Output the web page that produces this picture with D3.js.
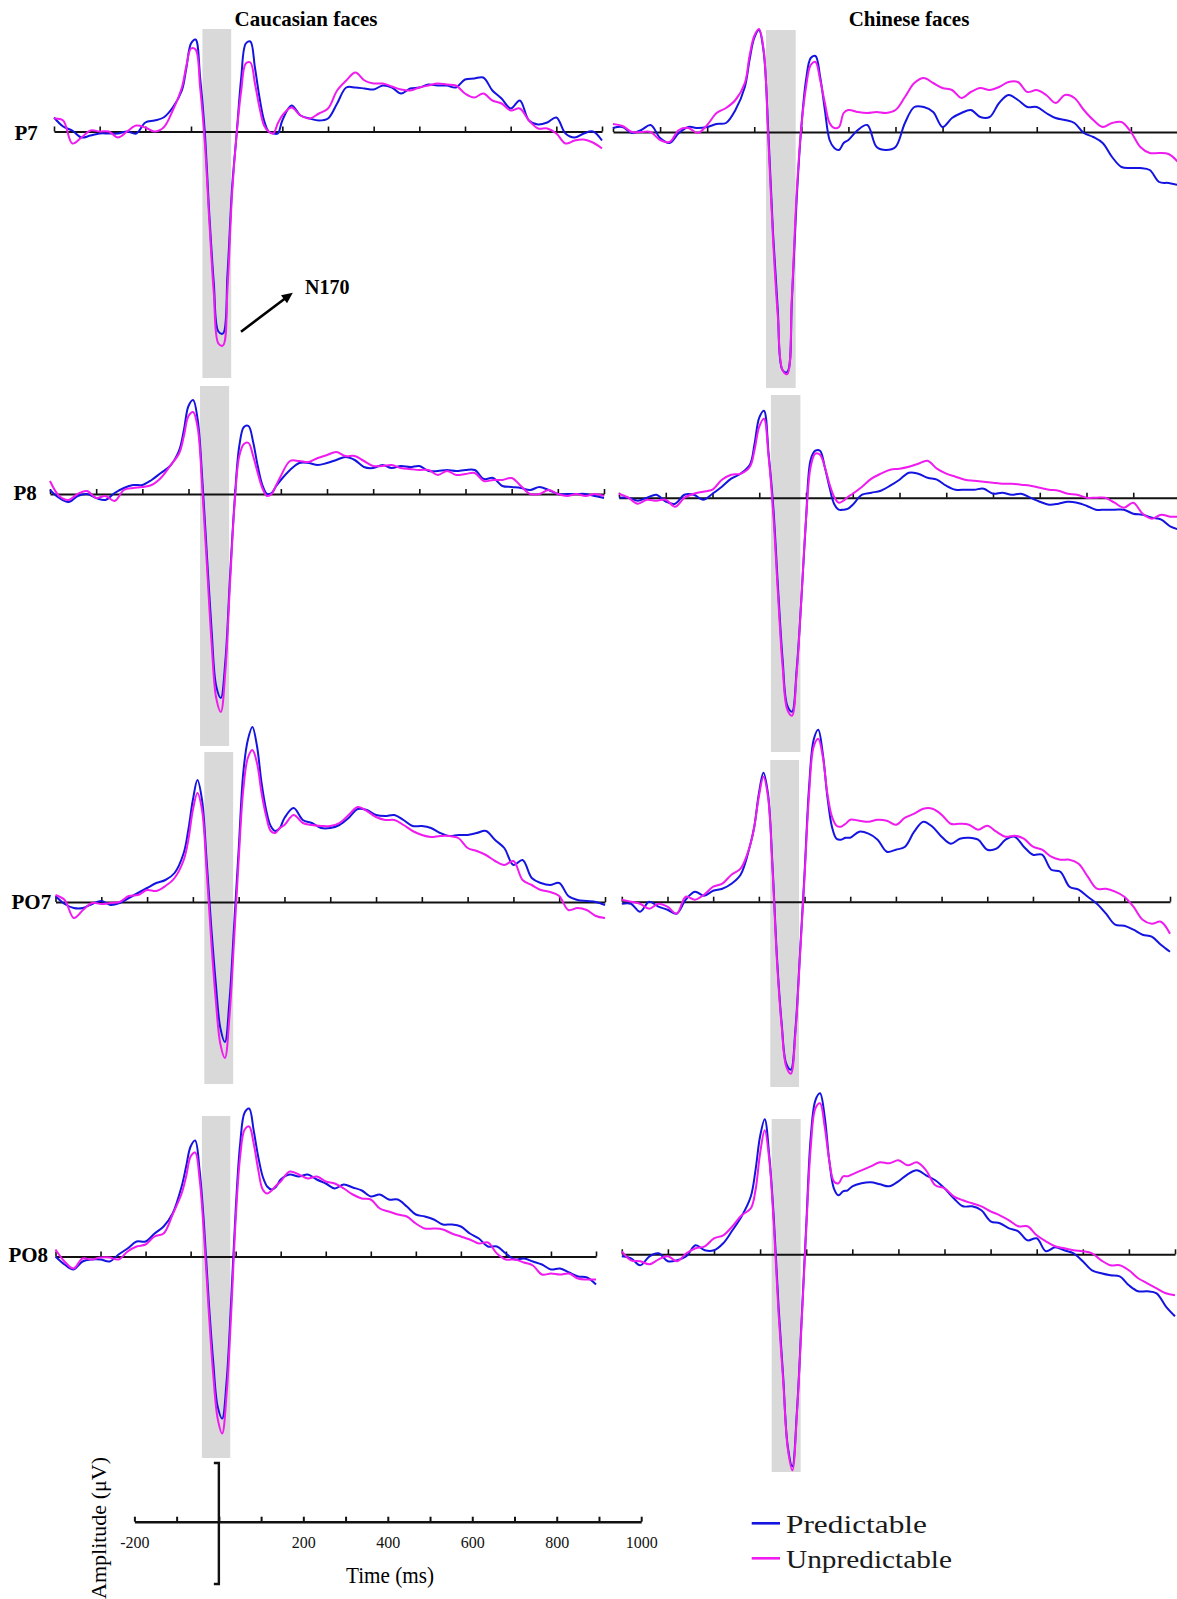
<!DOCTYPE html>
<html>
<head>
<meta charset="utf-8">
<script src="https://cdn.jsdelivr.net/npm/d3@7"></script>
<style>
  body { margin: 0; background: #fff; }
  svg { display: block; }
</style>
</head>
<body>
<div id="erp"></div>
<script>
// time points (ms) shared by every waveform
var timeMs = [-200,-180,-160,-140,-120,-100,-80,-60,-40,-20,0,20,40,60,80,
  90,100,110,120,130,140,150,160,170,180,190,200,210,220,230,240,250,260,270,280,290,300,
  320,340,360,380,400,420,440,460,480,500,520,540,560,580,600,620,640,660,680,700,
  720,740,760,780,800,820,840,860,880,900,920,940,960,980,1000];

// amplitudes in microvolts
var p7CauPred = [0.7,0.25,0.05,-0.3,-0.2,-0.1,-0.1,-0.1,0,-0.1,0.45,0.55,0.7,1.2,2.05,
  3.2,4.4,4.6,2.7,0.05,-4.1,-7.6,-10.0,-10.1,-7.1,-2.8,-0.1,2.7,4.4,4.5,3.2,1.7,0.55,0,-0.1,-0.1,0.55,
  1.3,0.8,0.65,0.55,0.65,1.4,2.2,2.2,2.15,2.1,2.3,2.2,1.9,2.15,2.2,2.35,2.3,2.3,2.2,2.6,
  2.65,2.7,2.05,1.65,1.15,1.55,0.55,0.35,0.45,0.7,-0.1,-0.3,-0.1,0,-0.45];
var p7CauUnpred = [0.65,0.55,-0.6,-0.3,0.05,0,0,-0.3,0,0.3,0.2,0,0.2,1.05,2.2,
  3.3,4.15,4.1,2.2,-0.45,-4.45,-8.1,-10.6,-10.7,-7.8,-3.1,-0.1,2.05,3.4,3.45,2.4,1.2,0.3,0,-0.1,0.4,0.8,
  1.2,0.8,0.65,0.9,1.15,2.05,2.55,2.95,2.55,2.4,2.4,2.25,2.1,2.05,2.2,2.3,2.4,2.35,2.3,1.9,
  1.7,1.9,1.55,1.4,1.05,1.15,0.55,0.15,0.15,-0.1,-0.6,-0.45,-0.4,-0.55,-0.85];
var p7ChiPred = [0.2,0.25,-0.05,0.1,0.35,-0.3,-0.55,-0.05,0.25,0.2,0.25,0.4,0.45,1.1,2.25,
  3.6,4.7,5.1,4.0,-0.05,-5.1,-8.9,-11.9,-12.0,-8.4,-3.4,0.25,2.6,3.7,3.8,2.75,1.1,-0.4,-0.8,-0.9,-0.55,-0.4,
  0.1,0.35,-0.75,-0.9,-0.75,0.45,1.25,1.25,1.0,0.25,0.7,0.95,1.1,0.75,0.75,1.45,1.85,1.6,1.25,1.25,
  0.95,0.7,0.6,0.45,-0.05,-0.25,-0.55,-1.25,-1.75,-1.8,-1.8,-1.9,-2.5,-2.55,-2.65];
var p7ChiUnpred = [0.4,0.3,0,0,0,-0.4,-0.5,0.1,0.2,-0.05,0.35,0.95,1.2,1.6,2.45,
  3.8,4.8,5.15,4.1,-0.4,-5.4,-9.2,-11.9,-12.1,-8.2,-3.1,0.25,2.25,3.35,3.5,2.6,1.45,0.45,0.2,0.25,0.95,1.1,
  1.0,0.95,1.0,0.95,1.1,1.75,2.45,2.7,2.45,2.2,2.1,1.7,2.0,2.2,2.1,2.25,2.5,2.5,2.0,2.1,
  1.85,1.45,1.85,1.7,1.1,0.6,0.25,0.45,0.5,0,-0.75,-1.05,-1.05,-1.1,-1.5];
var p8CauPred = [0.2,-0.2,-0.4,-0.1,0,-0.2,-0.3,0.05,0.3,0.45,0.45,0.7,1.05,1.4,2.2,
  3.2,4.4,4.7,3.7,0.7,-3.1,-6.8,-9.6,-10.2,-8.3,-4.1,-0.3,2.4,3.35,3.4,2.6,1.4,0.45,0,0.05,0.4,0.7,
  1.2,1.55,1.55,1.45,1.55,1.7,1.85,1.7,1.35,1.3,1.45,1.3,1.4,1.35,1.4,1.15,1.15,1.2,1.15,1.2,
  1.2,0.75,0.8,0.4,0.35,0.3,0.2,0.35,0.2,0,0,0,0,-0.1,-0.2];
var p8CauUnpred = [0.65,-0.1,-0.3,0,0.15,-0.2,-0.1,-0.35,0.2,0.3,0.35,0.45,0.8,1.4,2.05,
  2.9,3.9,4.1,3.3,0.2,-3.6,-7.45,-10.2,-10.9,-8.8,-4.45,-0.45,1.9,2.5,2.55,1.9,1.05,0.3,-0.1,0,0.45,0.9,
  1.65,1.65,1.6,1.8,1.95,2.1,1.9,1.9,1.65,1.4,1.4,1.45,1.3,1.25,1.2,1.2,0.95,1.15,0.95,1.0,
  1.05,0.65,0.7,0.7,0.8,0.4,0,0,0.2,0,-0.1,0,-0.1,0,-0.1];
var p8ChiPred = [0,0,-0.15,0,0.15,-0.2,-0.3,0.15,0.15,-0.1,0.2,0.55,0.95,1.2,1.65,
  2.7,4.0,4.35,2.2,-0.45,-4.45,-8.1,-10.4,-10.7,-8.6,-5.1,-1.1,1.9,2.35,2.35,1.55,0.55,-0.3,-0.6,-0.6,-0.55,-0.35,
  0.15,0.25,0.35,0.6,0.9,1.25,1.2,1.0,0.9,0.6,0.4,0.4,0.4,0.45,0.2,0.25,0.15,0.2,0,-0.2,
  -0.35,-0.3,-0.2,-0.25,-0.4,-0.6,-0.6,-0.6,-0.6,-0.8,-0.85,-1.0,-1.1,-1.45,-1.6];
var p8ChiUnpred = [0.2,0,-0.3,-0.1,-0.15,-0.1,-0.45,0,0.2,0.3,0.4,0.9,1.15,1.2,1.55,
  2.4,3.55,3.95,2.05,-0.8,-4.8,-8.45,-10.6,-10.9,-8.8,-5.1,-1.1,1.55,2.2,2.15,1.55,0.7,0.05,-0.25,-0.15,0.05,0.2,
  0.55,0.95,1.2,1.4,1.45,1.55,1.7,1.85,1.45,1.2,1.05,0.9,0.85,0.8,0.75,0.7,0.7,0.65,0.6,0.5,
  0.4,0.35,0.2,0.15,0,0,0,-0.25,-0.5,-0.25,-0.8,-1.05,-0.85,-0.95,-0.95];
var po7CauPred = [0.3,-0.1,-0.3,-0.3,-0.1,0.05,-0.15,-0.05,0.2,0.45,0.7,0.95,1.1,1.45,2.45,
  3.6,5.1,6.1,5.1,2.1,-1.2,-4.05,-6.3,-7.0,-4.9,-1.2,2.6,6.45,8.1,8.75,7.8,5.95,4.6,3.8,3.55,3.7,4.2,
  4.7,4.1,3.95,3.7,3.7,3.85,4.2,4.65,4.6,4.35,4.3,4.35,4.1,3.8,3.8,3.7,3.45,3.3,3.35,3.35,
  3.45,3.55,3.1,2.7,1.85,2.1,1.2,0.95,0.85,0.95,0.3,0.1,0.05,0,-0.15];
var po7CauUnpred = [0.35,0.1,-0.8,-0.4,-0.05,-0.1,-0.05,0,0.3,0.35,0.6,0.55,0.8,1.2,2.1,
  3.1,4.6,5.45,4.6,1.6,-1.9,-4.9,-7.1,-7.8,-5.7,-1.9,2.1,5.6,7.2,7.6,6.95,5.45,4.3,3.55,3.45,3.7,3.85,
  4.35,3.95,3.85,3.8,3.8,3.95,4.35,4.75,4.55,4.25,4.1,4.1,3.85,3.55,3.35,3.25,3.3,3.3,3.2,2.7,
  2.55,2.35,2.05,1.85,2.05,1.1,0.85,0.6,0.5,0.3,-0.4,-0.3,-0.4,-0.7,-0.8];
var po7ChiPred = [-0.1,-0.1,-0.5,0,-0.25,-0.4,-0.6,0.1,0.5,0.3,0.55,0.65,0.9,1.35,2.75,
  3.75,5.4,6.45,5.4,1.75,-2.9,-6.1,-8.1,-8.4,-6.4,-2.6,1.4,5.75,8.1,8.6,7.4,5.25,3.75,3.15,3.1,3.2,3.2,
  3.5,3.4,3.1,2.5,2.6,2.75,3.5,4.0,3.75,3.25,2.9,3.15,3.2,3.1,2.6,2.65,3.1,3.25,2.75,2.35,
  2.35,1.6,1.5,0.75,0.6,0.25,-0.1,-0.6,-1.15,-1.2,-1.4,-1.65,-1.75,-2.15,-2.5];
var po7ChiUnpred = [0.1,0,-0.1,-0.35,-0.1,-0.25,-0.6,0.25,0.1,0.35,0.75,0.9,1.35,1.65,2.75,
  3.75,5.25,6.25,5.25,1.6,-3.1,-6.25,-8.25,-8.6,-6.6,-2.75,1.25,5.4,7.75,8.15,7.25,5.4,4.25,3.8,3.75,3.9,4.1,
  4.05,4.0,4.1,4.05,3.85,4.2,4.4,4.65,4.65,4.35,3.9,3.9,3.85,3.6,3.8,3.5,3.25,3.3,3.15,2.75,
  2.6,2.25,2.1,2.1,1.9,1.25,0.65,0.65,0.5,0.25,-0.25,-0.9,-1.1,-1.0,-1.6];
var po8CauPred = [0,-0.4,-0.65,-0.25,-0.15,-0.15,-0.25,0.1,0.4,0.75,0.75,1.15,1.5,2.15,3.5,
  4.5,5.5,5.8,4.3,1.5,-2.15,-5.2,-7.5,-8.1,-6.2,-2.2,2.3,5.65,7.2,7.4,6.3,5.0,4.0,3.5,3.35,3.5,3.85,
  4.1,4.0,4.1,3.85,3.65,3.4,3.6,3.45,3.3,3.0,3.1,2.85,2.85,2.5,2.1,2.0,1.85,1.6,1.6,1.5,
  1.15,0.9,0.5,0.5,0.15,-0.15,-0.1,-0.25,-0.4,-0.65,-0.6,-0.8,-1.0,-1.05,-1.4];
var po8CauUnpred = [0.35,-0.25,-0.6,-0.1,-0.15,-0.05,-0.05,-0.15,0.25,0.5,0.6,1.0,1.15,2.1,3.15,
  4.0,5.0,5.2,3.85,1.0,-2.65,-5.85,-8.1,-8.85,-6.85,-2.85,1.85,5.0,6.35,6.5,5.65,4.35,3.35,3.15,3.3,3.55,3.75,
  4.25,4.1,3.9,4.0,3.75,3.65,3.4,3.1,2.9,2.85,2.4,2.25,2.1,2.0,1.65,1.4,1.4,1.35,1.15,1.0,
  0.85,0.65,0.7,0.15,-0.15,-0.15,-0.3,-0.45,-0.9,-0.85,-0.9,-0.85,-1.1,-1.15,-1.15];
var po8ChiPred = [-0.1,-0.2,-0.55,-0.1,0.05,-0.35,-0.3,-0.1,0.45,0.2,0.2,0.55,1.2,1.9,2.9,
  4.2,5.9,6.75,4.9,1.7,-2.6,-6.1,-9.6,-10.6,-7.8,-3.3,1.4,5.9,7.7,8.05,6.9,4.7,3.3,2.95,3.15,3.2,3.4,
  3.55,3.6,3.5,3.4,3.65,4.0,4.2,3.95,3.7,3.3,2.8,2.4,2.4,2.2,1.65,1.55,1.3,1.15,0.7,0.8,
  0.15,0.35,0.2,0.05,-0.35,-0.8,-0.95,-1.05,-1.1,-1.55,-1.85,-1.85,-1.95,-2.6,-3.1];
var po8ChiUnpred = [0.15,-0.3,-0.35,-0.5,-0.25,-0.1,-0.35,0.05,0.3,0.4,0.8,0.95,1.4,1.95,2.3,
  3.2,5.05,6.2,4.7,1.4,-2.95,-6.3,-9.7,-10.8,-7.95,-3.45,1.2,5.4,7.3,7.55,6.4,4.7,3.65,3.55,3.9,3.9,4.0,
  4.2,4.4,4.6,4.55,4.7,4.45,4.6,4.2,3.45,3.3,2.9,2.7,2.55,2.4,2.15,1.95,1.7,1.4,1.4,0.95,
  0.65,0.4,0.3,0.2,0.15,0.05,-0.3,-0.55,-0.55,-0.8,-1.2,-1.45,-1.7,-1.95,-2.05];

var electrodes = ["P7", "P8", "PO7", "PO8"];
var faceGroups = ["Caucasian faces", "Chinese faces"];
var conditions = ["Predictable", "Unpredictable"];
var n170Window = [125, 188];
var tickMs = [-200,-100,0,100,200,300,400,500,600,700,800,900,1000];
var scaleLabels = [-200, 200, 400, 600, 800, 1000];

var width = 1177, height = 1599;
var uvPx = 20;            // pixels per microvolt
var colors = {Predictable: "#1414e1", Unpredictable: "#ef1bef"};
var serif = "'Liberation Serif', 'Times New Roman', serif";

var svg = d3.select('#erp').append('svg')
    .attr('width', width)
    .attr('height', height);

// every panel is a small picture of its own, placed like the collage
var panels = [
  {row: 0, col: 0, pred: p7CauPred,  unpred: p7CauUnpred,  left: 54,    right: 602,  axisY: 131.5,  bandTop: 29,   bandBottom: 378},
  {row: 0, col: 1, pred: p7ChiPred,  unpred: p7ChiUnpred,  left: 613,   right: 1178, axisY: 132,    bandTop: 30,   bandBottom: 388},
  {row: 1, col: 0, pred: p8CauPred,  unpred: p8CauUnpred,  left: 50,    right: 604,  axisY: 494,    bandTop: 386,  bandBottom: 746},
  {row: 1, col: 1, pred: p8ChiPred,  unpred: p8ChiUnpred,  left: 619,   right: 1180, axisY: 497.7,  bandTop: 395,  bandBottom: 752},
  {row: 2, col: 0, pred: po7CauPred, unpred: po7CauUnpred, left: 55.5,  right: 605,  axisY: 902,    bandTop: 752,  bandBottom: 1084},
  {row: 2, col: 1, pred: po7ChiPred, unpred: po7ChiUnpred, left: 621.8, right: 1170, axisY: 901.7,  bandTop: 760,  bandBottom: 1087},
  {row: 3, col: 0, pred: po8CauPred, unpred: po8CauUnpred, left: 55.5,  right: 596,  axisY: 1256.5, bandTop: 1116, bandBottom: 1458},
  {row: 3, col: 1, pred: po8ChiPred, unpred: po8ChiUnpred, left: 621.8, right: 1175, axisY: 1254.3, bandTop: 1119, bandBottom: 1472}
];

panels.forEach(function(p) {
  if (p.pred.length !== timeMs.length || p.unpred.length !== timeMs.length)
    throw new Error("length mismatch in panel " + p.row + "," + p.col + ": " + p.pred.length + "/" + p.unpred.length);
  p.x = d3.scaleLinear().domain([-200, 1000]).range([p.left, p.right]);
  p.y = d3.scaleLinear().domain([0, 1]).range([p.axisY, p.axisY - uvPx]);
});

// N170 window bands
svg.append('g').selectAll('rect')
    .data(panels)
  .enter().append('rect')
    .attr('x', function(p) { return p.x(n170Window[0]); })
    .attr('width', function(p) { return p.x(n170Window[1]) - p.x(n170Window[0]); })
    .attr('y', function(p) { return p.bandTop; })
    .attr('height', function(p) { return p.bandBottom - p.bandTop; })
    .attr('fill', '#d9d9d9');

// zero lines with upward ticks
panels.forEach(function(p) {
  var g = svg.append('g')
      .attr('transform', 'translate(0,' + p.axisY + ')')
      .call(d3.axisBottom(p.x).tickValues(tickMs).tickSizeInner(-5).tickSizeOuter(0).tickFormat(''));
  g.select('.domain').attr('stroke', '#111').attr('stroke-width', 2);
  g.selectAll('.tick line').attr('stroke', '#111').attr('stroke-width', 1.6);
});

// waveforms
var line = d3.line().curve(d3.curveCatmullRom.alpha(0.5));
panels.forEach(function(p) {
  [['Predictable', p.pred], ['Unpredictable', p.unpred]].forEach(function(s) {
    svg.append('path')
        .datum(timeMs.map(function(t, i) { return [p.x(t), p.y(s[1][i])]; }))
        .attr('d', line)
        .attr('fill', 'none')
        .attr('stroke', colors[s[0]])
        .attr('stroke-width', 2)
        .attr('stroke-linejoin', 'round');
  });
});

// column titles
var titleX = [306, 909];
svg.selectAll('.title')
    .data(faceGroups)
  .enter().append('text')
    .attr('class', 'title')
    .attr('x', function(d, i) { return titleX[i]; })
    .attr('y', 26)
    .attr('text-anchor', 'middle')
    .attr('font-family', serif)
    .attr('font-weight', 'bold')
    .attr('font-size', 21)
    .text(function(d) { return d; });

// electrode labels
var labelPos = [[14.5, 140], [13.4, 500], [11.5, 909], [8.4, 1262]];
svg.selectAll('.elec')
    .data(electrodes)
  .enter().append('text')
    .attr('class', 'elec')
    .attr('x', function(d, i) { return labelPos[i][0]; })
    .attr('y', function(d, i) { return labelPos[i][1]; })
    .attr('font-family', serif)
    .attr('font-weight', 'bold')
    .attr('font-size', 21)
    .text(function(d) { return d; });

// N170 arrow
var a0 = [241, 331.7], a1 = [292.8, 292.7];
var ang = Math.atan2(a1[1] - a0[1], a1[0] - a0[0]);
svg.append('line')
    .attr('x1', a0[0]).attr('y1', a0[1])
    .attr('x2', a1[0] - 6 * Math.cos(ang)).attr('y2', a1[1] - 6 * Math.sin(ang))
    .attr('stroke', '#000').attr('stroke-width', 2.6);
var hl = 11, hw = 5;
svg.append('path')
    .attr('d', 'M' + a1[0] + ',' + a1[1] +
      'L' + (a1[0] - hl * Math.cos(ang) + hw * Math.sin(ang)) + ',' + (a1[1] - hl * Math.sin(ang) - hw * Math.cos(ang)) +
      'L' + (a1[0] - hl * Math.cos(ang) - hw * Math.sin(ang)) + ',' + (a1[1] - hl * Math.sin(ang) + hw * Math.cos(ang)) + 'Z')
    .attr('fill', '#000');
svg.append('text')
    .attr('x', 305).attr('y', 294)
    .attr('font-family', serif).attr('font-weight', 'bold').attr('font-size', 20)
    .text('N170');

// scale bar
var sx = d3.scaleLinear().domain([-200, 1000]).range([134.4, 641.2]);
var scaleY = 1521.7;
var sg = svg.append('g')
    .attr('transform', 'translate(0,' + scaleY + ')')
    .call(d3.axisBottom(sx).tickValues(tickMs).tickSizeInner(-5).tickSizeOuter(0).tickPadding(15)
      .tickFormat(function(d) { return scaleLabels.indexOf(d) >= 0 ? d : ''; }));
sg.select('.domain').attr('stroke', '#111').attr('stroke-width', 2.4);
sg.selectAll('.tick line').attr('stroke', '#111').attr('stroke-width', 2);
sg.selectAll('.tick text')
    .attr('font-family', serif)
    .attr('font-size', 16)
    .attr('fill', '#111');

var zx = sx(0);
svg.append('path')
    .attr('d', 'M' + (zx - 5) + ',1463 H' + zx + ' V1584 H' + (zx - 5))
    .attr('fill', 'none')
    .attr('stroke', '#111')
    .attr('stroke-width', 2.4);

svg.append('text')
    .attr('x', 390).attr('y', 1583)
    .attr('text-anchor', 'middle')
    .attr('font-family', serif).attr('font-size', 24)
    .attr('textLength', 88).attr('lengthAdjust', 'spacingAndGlyphs')
    .text('Time (ms)');

svg.append('text')
    .attr('transform', 'translate(106,1528) rotate(-90)')
    .attr('text-anchor', 'middle')
    .attr('font-family', serif).attr('font-size', 22)
    .text('Amplitude (\u03bcV)');

// legend
var legendRows = [{y: 1523.3, len: 141}, {y: 1558.3, len: 166}];
var legend = svg.selectAll('.legend')
    .data(conditions)
  .enter().append('g')
    .attr('class', 'legend')
    .attr('transform', function(d, i) { return 'translate(0,' + legendRows[i].y + ')'; });
legend.append('line')
    .attr('x1', 751.7).attr('x2', 780)
    .attr('stroke', function(d) { return colors[d]; })
    .attr('stroke-width', 2.6);
legend.append('text')
    .attr('x', 786).attr('y', 10)
    .attr('font-family', serif)
    .attr('font-size', 26)
    .attr('fill', '#1a1a1a')
    .attr('textLength', function(d, i) { return legendRows[i].len; })
    .attr('lengthAdjust', 'spacingAndGlyphs')
    .text(function(d) { return d; });
</script>
</body>
</html>
